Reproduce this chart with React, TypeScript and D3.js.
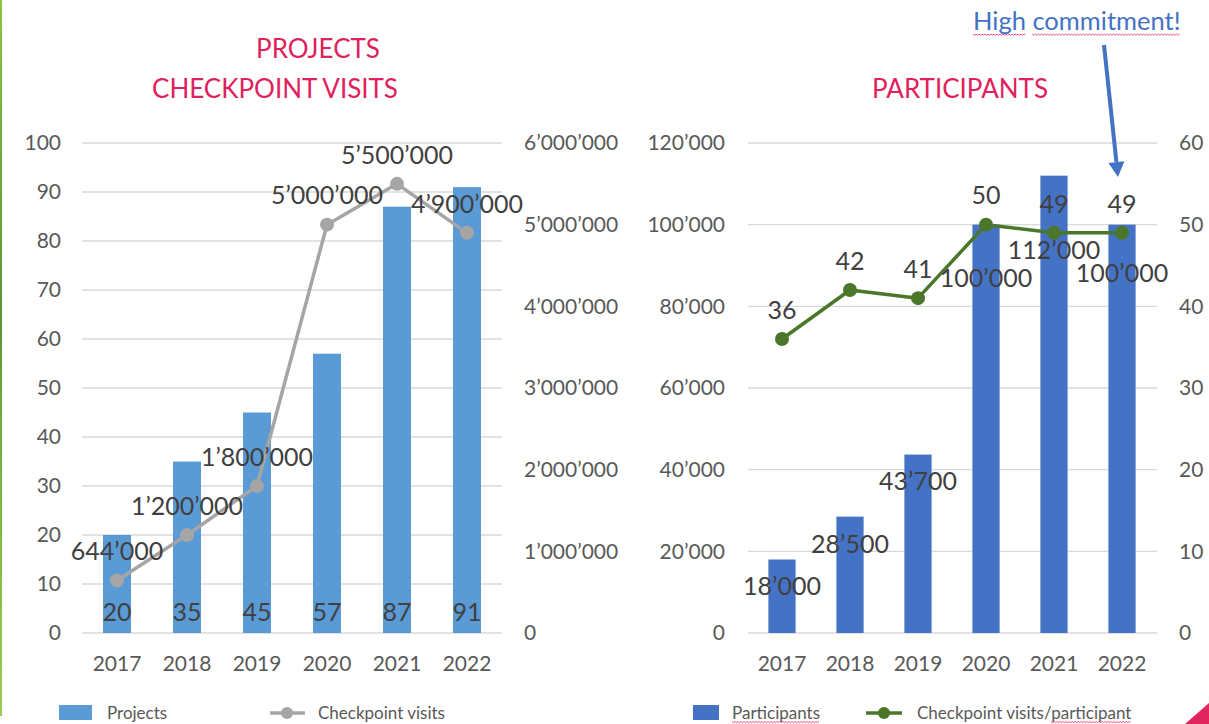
import React, { useLayoutEffect, useRef, useState } from 'react';
import * as d3 from 'd3';

// ---------- data ----------
const years = ['2017', '2018', '2019', '2020', '2021', '2022'];
const projects = [20, 35, 45, 57, 87, 91];
const checkpointVisits = [644000, 1200000, 1800000, 5000000, 5500000, 4900000];
const participants = [18000, 28500, 43700, 100000, 112000, 100000];
const visitsPerParticipant = [36, 42, 41, 50, 49, 49];

const projectTicks = [0, 10, 20, 30, 40, 50, 60, 70, 80, 90, 100];
const visitTicks = [0, 1000000, 2000000, 3000000, 4000000, 5000000, 6000000];
const participantTicks = [0, 20000, 40000, 60000, 80000, 100000, 120000];
const ratioTicks = [0, 10, 20, 30, 40, 50, 60];

// label placement offsets (px below bar top) for participant labels
const participantLabelOffset = [27, 28, 27, 54, 75, 49];

// ---------- style ----------
const FONT = 'Lato, "Open Sans", sans-serif';
const AXIS_COLOR = '#595959';
const LABEL_COLOR = '#404040';
const GRID = '#D9D9D9';
const TITLE = '#E0215D';
const BLUE_LIGHT = '#5B9BD5';
const BLUE_DARK = '#4472C4';
const GRAY = '#A5A5A5';
const GREEN = '#4A7729';

const fmt = (v: number) => d3.format(',')(v).replace(/,/g, '\u2019');

function squiggle(x0: number, x1: number, y: number) {
  const pts: [number, number][] = [];
  let i = 0;
  for (let x = x0; x <= x1; x += 1.5, i++) pts.push([x, y + (i % 2 ? 1.3 : 0)]);
  return d3.line()(pts) || '';
}

export default function App() {
  const W = 1209, H = 724;

  // scales
  const yTop = 143, yBot = 633;
  const xL = d3.scaleBand<string>().domain(years).range([82, 502]).paddingInner(0.6).paddingOuter(0.3);
  const xR = d3.scaleBand<string>().domain(years).range([748, 1156]).paddingInner(0.6).paddingOuter(0.3);
  const yProj = d3.scaleLinear().domain([0, 100]).range([yBot, yTop]);
  const yVisits = d3.scaleLinear().domain([0, 6000000]).range([yBot, yTop]);
  const yPart = d3.scaleLinear().domain([0, 120000]).range([yBot, yTop]);
  const yRatio = d3.scaleLinear().domain([0, 60]).range([yBot, yTop]);

  const cxL = (y: string) => (xL(y) as number) + xL.bandwidth() / 2;
  const cxR = (y: string) => (xR(y) as number) + xR.bandwidth() / 2;

  const visitsLine = d3.line<number>().x((_, i) => cxL(years[i])).y((d) => yVisits(d))(checkpointVisits) || '';
  const ratioLine = d3.line<number>().x((_, i) => cxR(years[i])).y((d) => yRatio(d))(visitsPerParticipant) || '';

  // spell-check squiggles measured from text
  const r1 = useRef<SVGTSpanElement>(null);
  const r2 = useRef<SVGTSpanElement>(null);
  const r3 = useRef<SVGTSpanElement>(null);
  const r4 = useRef<SVGTSpanElement>(null);
  const [sq, setSq] = useState<{ x0: number; x1: number; y: number }[]>([]);
  useLayoutEffect(() => {
    const out: { x0: number; x1: number; y: number }[] = [];
    const items: [React.RefObject<SVGTSpanElement>, number][] = [[r1, 4], [r2, 4], [r3, 2.5], [r4, 2.5]];
    for (const [r, dy] of items) {
      const el = r.current;
      if (!el) continue;
      try {
        const p = el.getStartPositionOfChar(0);
        const len = el.getComputedTextLength();
        out.push({ x0: p.x, x1: p.x + len, y: Math.min(p.y + dy, 721.5) });
      } catch (e) {}
    }
    setSq(out);
  }, []);

  // arrow
  const ax0 = 1104, ay0 = 45, ax1 = 1118, ay1 = 177;
  const ang = Math.atan2(ay1 - ay0, ax1 - ax0);
  const headLen = 15, headHalf = 8;
  const bx = ax1 - headLen * Math.cos(ang), by = ay1 - headLen * Math.sin(ang);
  const px = -Math.sin(ang) * headHalf, py = Math.cos(ang) * headHalf;

  return (
    <svg width={W} height={H} style={{ position: 'absolute', left: 0, top: 0, background: '#fff' }} fontFamily={FONT}>
      <defs>
        <linearGradient id="edge" x1="0" y1="0" x2="0" y2="1">
          <stop offset="0" stopColor="#8CC63F" />
          <stop offset="0.2" stopColor="#6FAE3A" />
          <stop offset="0.45" stopColor="#5A9830" />
          <stop offset="0.6" stopColor="#6FB03A" />
          <stop offset="1" stopColor="#9BCD4F" />
        </linearGradient>
      </defs>
      <rect x={0} y={0} width={W} height={H} fill="#fff" />
      <rect x={0} y={0} width={2} height={716} fill="url(#edge)" />
      <polygon points={`1185,724 1209,703 1209,724`} fill="#E0245E" />

      {/* ---------- titles ---------- */}
      <text x={318} y={58} fontSize={26} fill={TITLE} textAnchor="middle">PROJECTS</text>
      <text x={275} y={98} fontSize={26} fill={TITLE} textAnchor="middle">CHECKPOINT VISITS</text>
      <text x={960} y={98} fontSize={26} fill={TITLE} textAnchor="middle">PARTICIPANTS</text>

      {/* ---------- left chart ---------- */}
      <g>
        {projectTicks.map((t) => (
          <g key={'pg' + t}>
            <line x1={82} x2={502} y1={yProj(t)} y2={yProj(t)} stroke={GRID} strokeWidth={1.3} />
            <text x={61} y={yProj(t)} dy="0.35em" textAnchor="end" fontSize={21} fill={AXIS_COLOR}>{t}</text>
          </g>
        ))}
        {visitTicks.map((t) => (
          <text key={'vt' + t} x={524} y={yVisits(t)} dy="0.35em" fontSize={21} fill={AXIS_COLOR}>{fmt(t)}</text>
        ))}
        {years.map((y) => (
          <text key={'xl' + y} x={cxL(y)} y={664} dy="0.35em" textAnchor="middle" fontSize={21} fill={AXIS_COLOR}>{y}</text>
        ))}
        {projects.map((v, i) => (
          <rect key={'pb' + i} x={xL(years[i])} y={yProj(v)} width={xL.bandwidth()} height={yBot - yProj(v)} fill={BLUE_LIGHT} />
        ))}
        {projects.map((v, i) => (
          <text key={'pl' + i} x={cxL(years[i])} y={yBot - 21} dy="0.35em" textAnchor="middle" fontSize={25} fill={LABEL_COLOR}>{v}</text>
        ))}
        <path d={visitsLine} fill="none" stroke={GRAY} strokeWidth={3.5} strokeLinejoin="round" />
        {checkpointVisits.map((v, i) => (
          <circle key={'vc' + i} cx={cxL(years[i])} cy={yVisits(v)} r={7} fill={GRAY} />
        ))}
        {checkpointVisits.map((v, i) => (
          <text key={'vl' + i} x={cxL(years[i])} y={yVisits(v) - 29} dy="0.35em" textAnchor="middle" fontSize={25} fill={LABEL_COLOR}>{fmt(v)}</text>
        ))}
      </g>

      {/* ---------- right chart ---------- */}
      <g>
        {participantTicks.map((t) => (
          <g key={'rg' + t}>
            <line x1={748} x2={1157} y1={yPart(t)} y2={yPart(t)} stroke={GRID} strokeWidth={1.3} />
            <text x={725} y={yPart(t)} dy="0.35em" textAnchor="end" fontSize={21} fill={AXIS_COLOR}>{fmt(t)}</text>
          </g>
        ))}
        {ratioTicks.map((t) => (
          <text key={'rt' + t} x={1179} y={yRatio(t)} dy="0.35em" fontSize={21} fill={AXIS_COLOR}>{t}</text>
        ))}
        {years.map((y) => (
          <text key={'xr' + y} x={cxR(y)} y={664} dy="0.35em" textAnchor="middle" fontSize={21} fill={AXIS_COLOR}>{y}</text>
        ))}
        {participants.map((v, i) => (
          <rect key={'rb' + i} x={xR(years[i])} y={yPart(v)} width={xR.bandwidth()} height={yBot - yPart(v)} fill={BLUE_DARK} />
        ))}
        <path d={ratioLine} fill="none" stroke={GREEN} strokeWidth={3.5} strokeLinejoin="round" />
        {visitsPerParticipant.map((v, i) => (
          <circle key={'rc' + i} cx={cxR(years[i])} cy={yRatio(v)} r={7} fill={GREEN} />
        ))}
        {participants.map((v, i) => (
          <text key={'rl' + i} x={cxR(years[i])} y={yPart(v) + participantLabelOffset[i]} dy="0.35em" textAnchor="middle" fontSize={25} fill={LABEL_COLOR}>{fmt(v)}</text>
        ))}
        {visitsPerParticipant.map((v, i) => (
          <text key={'rrl' + i} x={cxR(years[i])} y={yRatio(v) - 29} dy="0.35em" textAnchor="middle" fontSize={25} fill={LABEL_COLOR}>{v}</text>
        ))}
      </g>

      {/* ---------- annotation ---------- */}
      <text x={973} y={30} fontSize={25.5} fill={BLUE_DARK}>
        <tspan ref={r1}>High</tspan> <tspan ref={r2}>commitment!</tspan>
      </text>
      <line x1={ax0} y1={ay0} x2={bx} y2={by} stroke={BLUE_DARK} strokeWidth={4} />
      <polygon points={`${ax1},${ay1} ${bx + px},${by + py} ${bx - px},${by - py}`} fill={BLUE_DARK} />

      {/* ---------- legends ---------- */}
      <rect x={59} y={705} width={33} height={15} fill={BLUE_LIGHT} />
      <text x={107} y={713} dy="0.35em" fontSize={17} fill={AXIS_COLOR}>Projects</text>
      <line x1={270} x2={305} y1={713} y2={713} stroke={GRAY} strokeWidth={3.5} />
      <circle cx={287} cy={713} r={6} fill={GRAY} />
      <text x={318} y={713} dy="0.35em" fontSize={17} fill={AXIS_COLOR}>Checkpoint visits</text>

      <rect x={693} y={705} width={26} height={15} fill={BLUE_DARK} />
      <text x={732} y={713} dy="0.35em" fontSize={17} fill={AXIS_COLOR}>
        <tspan ref={r3}>Participants</tspan>
      </text>
      <line x1={866} x2={902} y1={713} y2={713} stroke={GREEN} strokeWidth={3.5} />
      <circle cx={884} cy={713} r={6} fill={GREEN} />
      <text x={917} y={713} dy="0.35em" fontSize={17} fill={AXIS_COLOR}>
        Checkpoint visits/<tspan ref={r4}>participant</tspan>
      </text>

      {sq.map((s, i) => (
        <path key={'sq' + i} d={squiggle(s.x0, s.x1, s.y)} fill="none" stroke="#E0245E" strokeWidth={0.8} />
      ))}
    </svg>
  );
}
